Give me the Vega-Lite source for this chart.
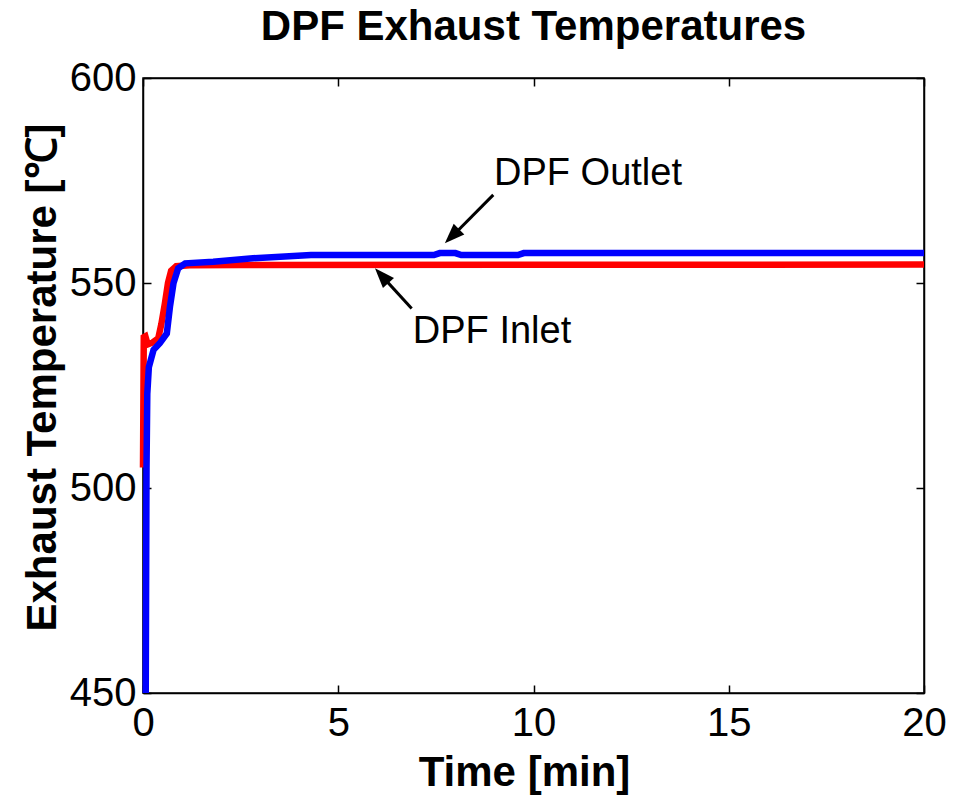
{
  "$schema": "https://vega.github.io/schema/vega-lite/v6.json",
  "width": 781,
  "height": 615,
  "autosize": "none",
  "padding": {"left": 143, "top": 78, "right": 39, "bottom": 103},
  "background": "white",
  "config": {
    "font": "Liberation Sans",
    "view": {"stroke": "black", "strokeWidth": 1.5},
    "axis": {
      "grid": false,
      "domainColor": "black",
      "domainWidth": 1.5,
      "tickColor": "black",
      "tickWidth": 1.5,
      "tickSize": -8,
      "labelFont": "Liberation Sans",
      "labelFontSize": 40,
      "labelColor": "black",
      "labelFlush": false,
      "labelOverlap": false,
      "titleFont": "Liberation Sans",
      "titleFontSize": 42,
      "titleFontWeight": "bold",
      "titleColor": "black",
      "titleBaseline": "alphabetic"
    }
  },
  "title": {
    "text": "DPF Exhaust Temperatures",
    "font": "Liberation Sans",
    "fontSize": 42,
    "fontWeight": "bold",
    "color": "black",
    "anchor": "middle",
    "baseline": "alphabetic",
    "offset": 22,
    "dy": 46
  },
  "datasets": {
    "temps": [
      {"series": "DPF Inlet", "t": 0.0, "temp": 505},
      {"series": "DPF Inlet", "t": 0.02, "temp": 536.8},
      {"series": "DPF Inlet", "t": 0.06, "temp": 537},
      {"series": "DPF Inlet", "t": 0.12, "temp": 535},
      {"series": "DPF Inlet", "t": 0.25, "temp": 535.5},
      {"series": "DPF Inlet", "t": 0.39, "temp": 536.5},
      {"series": "DPF Inlet", "t": 0.47, "temp": 540},
      {"series": "DPF Inlet", "t": 0.56, "temp": 545},
      {"series": "DPF Inlet", "t": 0.64, "temp": 550},
      {"series": "DPF Inlet", "t": 0.72, "temp": 553},
      {"series": "DPF Inlet", "t": 0.85, "temp": 554.1},
      {"series": "DPF Inlet", "t": 1.2, "temp": 554.3},
      {"series": "DPF Inlet", "t": 2.5, "temp": 554.4},
      {"series": "DPF Inlet", "t": 20, "temp": 554.5},
      {"series": "DPF Outlet", "t": 0.07, "temp": 450},
      {"series": "DPF Outlet", "t": 0.09, "temp": 505},
      {"series": "DPF Outlet", "t": 0.11, "temp": 523},
      {"series": "DPF Outlet", "t": 0.15, "temp": 529.5},
      {"series": "DPF Outlet", "t": 0.27, "temp": 533.7},
      {"series": "DPF Outlet", "t": 0.43, "temp": 535.3},
      {"series": "DPF Outlet", "t": 0.61, "temp": 537.7},
      {"series": "DPF Outlet", "t": 0.69, "temp": 544.2},
      {"series": "DPF Outlet", "t": 0.78, "temp": 549.9},
      {"series": "DPF Outlet", "t": 0.9, "temp": 553.6},
      {"series": "DPF Outlet", "t": 1.08, "temp": 554.8},
      {"series": "DPF Outlet", "t": 1.8, "temp": 555.2},
      {"series": "DPF Outlet", "t": 2.74, "temp": 556},
      {"series": "DPF Outlet", "t": 4.3, "temp": 556.8},
      {"series": "DPF Outlet", "t": 7.45, "temp": 556.8},
      {"series": "DPF Outlet", "t": 7.6, "temp": 557.3},
      {"series": "DPF Outlet", "t": 8.0, "temp": 557.3},
      {"series": "DPF Outlet", "t": 8.15, "temp": 556.8},
      {"series": "DPF Outlet", "t": 9.6, "temp": 556.8},
      {"series": "DPF Outlet", "t": 9.75, "temp": 557.3},
      {"series": "DPF Outlet", "t": 20, "temp": 557.3}
    ],
    "arrows": [
      {"label": "DPF Outlet", "t": 8.97, "temp": 571.5, "t2": 7.92, "temp2": 561.4, "tipT": 7.73, "tipTemp": 559.7, "textT": 8.99, "textTemp": 573.9},
      {"label": "DPF Inlet", "t": 6.88, "temp": 543.8, "t2": 6.11, "temp2": 551.8, "tipT": 5.94, "tipTemp": 553.6, "textT": 6.91, "textTemp": 535.4}
    ]
  },
  "layer": [
    {
      "data": {"name": "temps"},
      "mark": {"type": "line", "strokeWidth": 6.5, "clip": false},
      "encoding": {
        "x": {
          "field": "t", "type": "quantitative",
          "scale": {"domain": [0, 20], "nice": false, "zero": false},
          "axis": {"orient": "bottom", "values": [0, 5, 10, 15, 20], "title": "Time [min]", "labelPadding": 18, "titleY": 92, "titleX": 381}
        },
        "y": {
          "field": "temp", "type": "quantitative",
          "scale": {"domain": [450, 600], "nice": false, "zero": false},
          "axis": {"orient": "left", "values": [450, 500, 550, 600], "title": "Exhaust Temperature [℃]", "labelPadding": 15, "titleX": -88, "titleY": 299}
        },
        "color": {
          "field": "series", "type": "nominal",
          "scale": {"domain": ["DPF Inlet", "DPF Outlet"], "range": ["#ff0000", "#0000ff"]},
          "legend": null
        }
      }
    },
    {
      "data": {"name": "arrows"},
      "mark": {"type": "rule", "strokeWidth": 3, "color": "black"},
      "encoding": {
        "x": {"field": "t", "type": "quantitative", "axis": {"orient": "top", "values": [0, 5, 10, 15, 20], "labels": false, "title": null}},
        "y": {"field": "temp", "type": "quantitative", "axis": {"orient": "right", "values": [450, 500, 550, 600], "labels": false, "title": null}},
        "x2": {"field": "t2"},
        "y2": {"field": "temp2"}
      }
    },
    {
      "data": {"name": "arrows"},
      "transform": [{"filter": "datum.label === 'DPF Outlet'"}],
      "mark": {"type": "point", "shape": "M0,0 L-0.75,2 L0.75,2 Z", "filled": true, "color": "black", "opacity": 1, "size": 400, "angle": 225, "strokeWidth": 0},
      "encoding": {
        "x": {"field": "tipT", "type": "quantitative", "axis": null},
        "y": {"field": "tipTemp", "type": "quantitative", "axis": null}
      }
    },
    {
      "data": {"name": "arrows"},
      "transform": [{"filter": "datum.label === 'DPF Inlet'"}],
      "mark": {"type": "point", "shape": "M0,0 L-0.75,2 L0.75,2 Z", "filled": true, "color": "black", "opacity": 1, "size": 400, "angle": 317.5, "strokeWidth": 0},
      "encoding": {
        "x": {"field": "tipT", "type": "quantitative", "axis": null},
        "y": {"field": "tipTemp", "type": "quantitative", "axis": null}
      }
    },
    {
      "data": {"name": "arrows"},
      "mark": {"type": "text", "align": "left", "baseline": "alphabetic", "fontSize": 38, "font": "Liberation Sans", "color": "black"},
      "encoding": {
        "x": {"field": "textT", "type": "quantitative", "axis": null},
        "y": {"field": "textTemp", "type": "quantitative", "axis": null},
        "text": {"field": "label"}
      }
    }
  ]
}
